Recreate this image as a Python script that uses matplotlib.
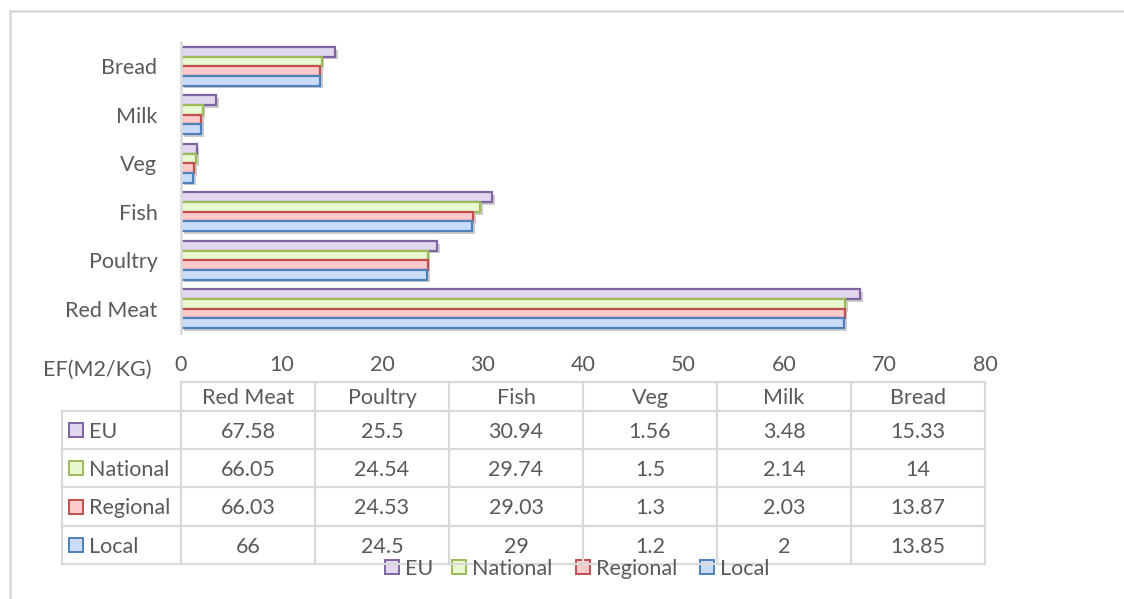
import matplotlib
matplotlib.use("Agg")
import matplotlib.pyplot as plt
import matplotlib.patheffects as pe
from matplotlib.patches import Rectangle
from matplotlib.lines import Line2D
import numpy as np

categories = ["Red Meat", "Poultry", "Fish", "Veg", "Milk", "Bread"]
series_names = ["EU", "National", "Regional", "Local"]
eu = [67.58, 25.5, 30.94, 1.56, 3.48, 15.33]
national = [66.05, 24.54, 29.74, 1.5, 2.14, 14]
regional = [66.03, 24.53, 29.03, 1.3, 2.03, 13.87]
local = [66, 24.5, 29, 1.2, 2, 13.85]
x_ticks = [0, 10, 20, 30, 40, 50, 60, 70, 80]
axis_label = "EF(M2/KG)"

series_values = [eu, national, regional, local]
fills = ["#E1D8EF", "#EAF8D2", "#FFCACA", "#CADCF8"]
edges = ["#8064A2", "#9BBB59", "#C0504D", "#4F81BD"]
offsets = [0.3, 0.1, -0.1, -0.3]

TXT = "#595959"
GRID = "#D9D9D9"
FONT = "Lato"
FS = 15.5

W, H = 1124, 599
fig = plt.figure(figsize=(W / 100, H / 100), dpi=100)
plt.rcParams['font.family'] = [FONT, 'DejaVu Sans']

def fx(x):
    return x / W

def fy(y):
    return 1 - y / H

ax_l, ax_r, ax_t, ax_b = 181, 985, 42, 333
ax = fig.add_axes([fx(ax_l), fy(ax_b), fx(ax_r) - fx(ax_l), fy(ax_t) - fy(ax_b)])

y = np.arange(len(categories))
shadow = [pe.SimplePatchShadow(offset=(2, -2), shadow_rgbFace="#000000", alpha=0.2), pe.Normal()]
for vals, fc, ec, off in zip(series_values, fills, edges, offsets):
    bars = ax.barh(y + off, vals, height=0.2, color=fc, edgecolor=ec, linewidth=1.6)
    for b in bars:
        b.set_path_effects(shadow)

ax.set_xlim(0, 80)
ax.set_ylim(-0.5, len(categories) - 0.5)
ax.set_yticks(y)
ax.set_yticklabels(categories, fontsize=FS, color=TXT)
ax.set_xticks(x_ticks)
ax.set_xticklabels([str(t) for t in x_ticks], fontsize=FS, color=TXT)
ax.tick_params(axis='x', length=0, pad=16)
ax.tick_params(axis='y', length=0, pad=17)
for s in ["top", "right", "bottom"]:
    ax.spines[s].set_visible(False)
ax.spines["left"].set_color(GRID)
ax.spines["left"].set_linewidth(1.8)

# axis label
fig.text(fx(43), fy(368), axis_label, fontsize=FS, color=TXT, ha="left", va="center_baseline")

# data table
col_edges = np.linspace(ax_l, ax_r, len(categories) + 1)
row_edges = [382, 411, 449, 487, 526, 564]
lab_l = 62

def hline(x0, x1, yy):
    fig.add_artist(Line2D([fx(x0), fx(x1)], [fy(yy), fy(yy)], color=GRID, lw=1.6))

def vline(xx, y0, y1):
    fig.add_artist(Line2D([fx(xx), fx(xx)], [fy(y0), fy(y1)], color=GRID, lw=1.6))

hline(ax_l, ax_r, row_edges[0])
for ry in row_edges[1:]:
    hline(lab_l, ax_r, ry)
vline(lab_l, row_edges[1], row_edges[-1])
for cx in col_edges:
    vline(cx, row_edges[0], row_edges[-1])

for i, cat in enumerate(categories):
    cx = (col_edges[i] + col_edges[i + 1]) / 2
    fig.text(fx(cx), fy((row_edges[0] + row_edges[1]) / 2), cat, fontsize=FS, color=TXT,
             ha="center", va="center_baseline")

for r, (name, vals, fc, ec) in enumerate(zip(series_names, series_values, fills, edges)):
    cy = (row_edges[r + 1] + row_edges[r + 2]) / 2
    fig.add_artist(Rectangle((fx(69), fy(cy + 7)), 14 / W, 14 / H,
                             facecolor=fc, edgecolor=ec, lw=1.4))
    fig.text(fx(89), fy(cy), name, fontsize=FS, color=TXT, ha="left", va="center_baseline")
    for i, v in enumerate(vals):
        cx = (col_edges[i] + col_edges[i + 1]) / 2
        fig.text(fx(cx), fy(cy), f"{v:g}", fontsize=FS, color=TXT, ha="center",
                 va="center_baseline")

# bottom legend
leg_x = [385, 452, 576, 700]
leg_y = 567
for lx, name, fc, ec in zip(leg_x, series_names, fills, edges):
    fig.add_artist(Rectangle((fx(lx), fy(leg_y + 7)), 14 / W, 14 / H,
                             facecolor=fc, edgecolor=ec, lw=1.4))
    fig.text(fx(lx + 20), fy(leg_y), name, fontsize=FS, color=TXT, ha="left",
             va="center_baseline")

# figure frame (left and top visible)
fig.add_artist(Line2D([fx(9.5), fx(9.5)], [fy(10.5), fy(W)], color=GRID, lw=1.8))
fig.add_artist(Line2D([fx(9.5), fx(W)], [fy(10.5), fy(10.5)], color=GRID, lw=1.8))

fig.savefig("out.png", dpi=100)
